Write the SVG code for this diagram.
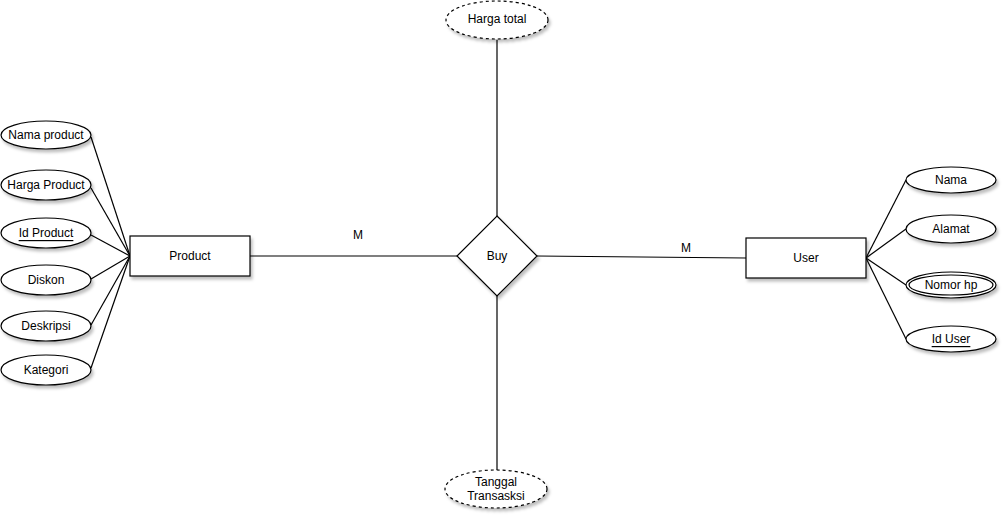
<svg xmlns="http://www.w3.org/2000/svg" width="1008" height="522" viewBox="0 0 1008 522">
<defs>
<filter id="sh" x="-20%" y="-20%" width="140%" height="150%">
<feDropShadow dx="2" dy="3" stdDeviation="1.5" flood-color="#000" flood-opacity="0.25"/>
</filter>
</defs>
<style>
.s{fill:#fff;stroke:#000;stroke-width:1.2;filter:url(#sh)}
.d{stroke-dasharray:3 3}
.t{font-family:"Liberation Sans",Arial,sans-serif;font-size:12px;fill:#000;text-anchor:middle;dominant-baseline:central}
.c{stroke:#000;stroke-width:1.2;fill:none}
</style>
<rect width="1008" height="522" fill="#fff"/>
<g id="connectors">
<line class="c" x1="91" y1="137" x2="130" y2="256"/>
<line class="c" x1="91" y1="188" x2="130" y2="256"/>
<line class="c" x1="91" y1="235" x2="130" y2="256"/>
<line class="c" x1="91" y1="279" x2="130" y2="256"/>
<line class="c" x1="91" y1="325" x2="130" y2="256"/>
<line class="c" x1="91" y1="368" x2="130" y2="256"/>
<line class="c" x1="866" y1="258" x2="906" y2="180"/>
<line class="c" x1="866" y1="258" x2="906" y2="229"/>
<line class="c" x1="866" y1="258" x2="906" y2="285"/>
<line class="c" x1="866" y1="258" x2="906" y2="339"/>
<line class="c" x1="250" y1="256" x2="457" y2="256"/>
<line class="c" x1="537" y1="256" x2="746" y2="258"/>
<line class="c" x1="497" y1="40" x2="497" y2="216"/>
<line class="c" x1="497" y1="296" x2="497" y2="470"/>
<text class="t" x="358" y="235">M</text>
<text class="t" x="686" y="248">M</text>
</g>
<g id="product"><rect class="s" x="130" y="236" width="120" height="40"/><text class="t" x="190" y="256">Product</text></g>
<g id="user"><rect class="s" x="746" y="238" width="120" height="40"/><text class="t" x="806" y="258">User</text></g>
<g id="buy"><polygon class="s" points="497,216 537,256 497,296 457,256"/><text class="t" x="497" y="256">Buy</text></g>
<g id="nama-product"><ellipse class="s" cx="46" cy="135" rx="45" ry="14"/><text class="t" x="46" y="135">Nama product</text></g>
<g id="harga-product"><ellipse class="s" cx="46" cy="185" rx="45" ry="15"/><text class="t" x="46" y="185">Harga Product</text></g>
<g id="id-product"><ellipse class="s" cx="46" cy="233" rx="45" ry="15"/><text class="t" x="46" y="233" text-decoration="underline">Id Product</text></g>
<g id="diskon"><ellipse class="s" cx="46" cy="280" rx="45" ry="15"/><text class="t" x="46" y="280">Diskon</text></g>
<g id="deskripsi"><ellipse class="s" cx="46" cy="326" rx="45" ry="15"/><text class="t" x="46" y="326">Deskripsi</text></g>
<g id="kategori"><ellipse class="s" cx="46" cy="370" rx="45" ry="15"/><text class="t" x="46" y="370">Kategori</text></g>
<g id="nama"><ellipse class="s" cx="951" cy="180" rx="45" ry="13"/><text class="t" x="951" y="180">Nama</text></g>
<g id="alamat"><ellipse class="s" cx="951" cy="229" rx="45" ry="14"/><text class="t" x="951" y="229">Alamat</text></g>
<g id="nomor-hp"><ellipse class="s" cx="951" cy="285" rx="45" ry="13"/><ellipse cx="951" cy="285" rx="42" ry="10" fill="none" stroke="#000" stroke-width="1.2"/><text class="t" x="951" y="285">Nomor hp</text></g>
<g id="id-user"><ellipse class="s" cx="951" cy="339" rx="45" ry="13"/><text class="t" x="951" y="339" text-decoration="underline">Id User</text></g>
<g id="harga-total"><ellipse class="s d" cx="497" cy="20" rx="51" ry="19"/><text class="t" x="497" y="19">Harga total</text></g>
<g id="tanggal-transaksi"><ellipse class="s d" cx="496" cy="489" rx="51" ry="19"/><text class="t" x="496" y="482">Tanggal</text><text class="t" x="496" y="496">Transasksi</text></g>
</svg>
